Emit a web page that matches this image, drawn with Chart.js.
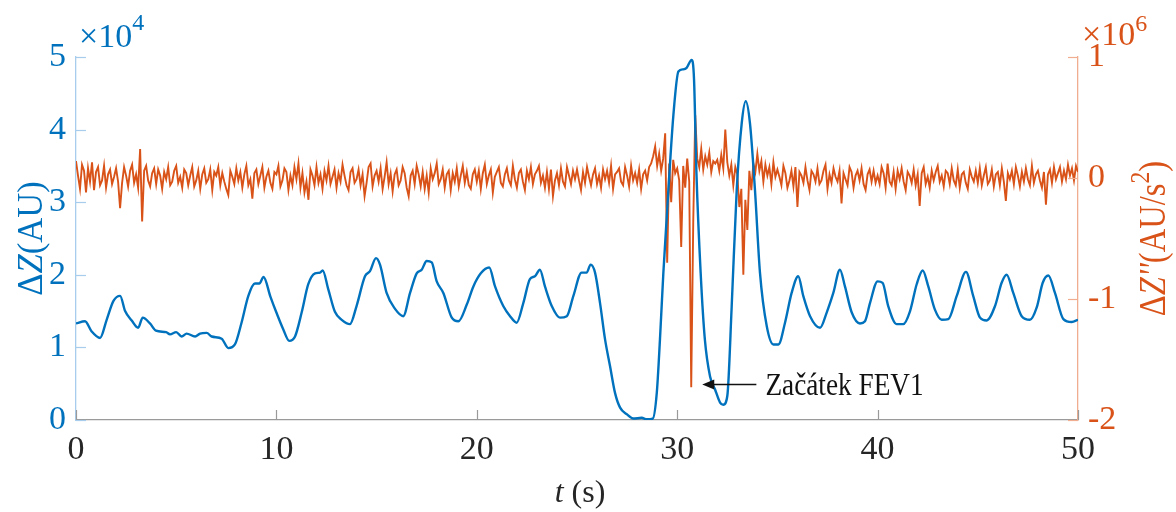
<!DOCTYPE html>
<html>
<head>
<meta charset="utf-8">
<title>FEV1</title>
<script src="https://cdn.jsdelivr.net/npm/chart.js@4.4.1/dist/chart.umd.min.js"></script>
<style>
    html, body { margin: 0; padding: 0; background: #fff; }
    #wrap { width: 1176px; height: 512px; }
</style>
</head>
<body>
<div id="wrap"><canvas id="chart-fev" width="1176" height="512"></canvas></div>
<script>
// impedance dZ, time in s, value in 1e4 AU
var impTime = [0, 0.45, 0.78, 1.2, 1.53, 1.87, 2.2, 2.45, 2.78, 3.1,
    3.33, 3.69, 3.99, 4.5, 4.69, 5.0, 5.27, 5.52, 5.94, 6.19,
    6.52, 6.77, 7.27, 7.6, 7.93, 8.26, 8.6, 8.93, 9.15, 9.36,
    9.7, 10.0, 10.34, 10.64, 10.93, 11.26, 11.59, 11.93, 12.18, 12.31,
    12.59, 12.92, 13.26, 13.67, 14.0, 14.42, 14.67, 14.97, 15.17, 15.5,
    15.92, 16.33, 16.67, 17.0, 17.25, 17.5, 17.75, 18.0, 18.33, 18.75,
    19.08, 19.5, 19.83, 20.2, 20.62, 20.91, 21.32, 21.66, 21.99, 22.32,
    22.65, 22.9, 23.15, 23.4, 23.74, 24.15, 24.49, 24.82, 25.23, 25.48,
    25.68, 25.9, 26.15, 26.4, 26.65, 26.9, 27.15, 27.48, 27.81, 28.23,
    28.48, 28.78, 28.98, 29.14, 29.31, 29.56, 29.81, 30.06, 30.3, 30.47,
    30.72, 30.84, 30.96, 31.17, 31.38, 31.64, 31.89, 32.14, 32.3, 32.5,
    32.72, 32.97, 33.22, 33.42, 33.63, 33.88, 34.13, 34.47, 34.8, 35.05,
    35.38, 35.71, 36.04, 36.29, 36.63, 37.13, 37.46, 37.79, 38.12, 38.37,
    38.71, 39.12, 39.37, 39.62, 40.0, 40.25, 40.53, 40.95, 41.28, 41.62,
    41.95, 42.25, 42.53, 42.86, 43.2, 43.53, 43.95, 44.41, 44.77, 45.11,
    45.44, 45.86, 46.19, 46.44, 46.77, 47.19, 47.6, 47.94, 48.24, 48.52,
    48.85, 49.27, 49.69, 50.0];
var impValue = [1.33, 1.36, 1.22, 1.13, 1.38, 1.64, 1.71, 1.50, 1.37, 1.27,
    1.41, 1.33, 1.23, 1.21, 1.18, 1.21, 1.15, 1.19, 1.15, 1.19,
    1.20, 1.15, 1.12, 0.99, 1.04, 1.34, 1.71, 1.88, 1.88, 1.97,
    1.70, 1.48, 1.25, 1.09, 1.15, 1.48, 1.87, 2.02, 2.03, 2.06,
    1.80, 1.49, 1.38, 1.32, 1.57, 1.98, 2.05, 2.23, 2.14, 1.75,
    1.53, 1.43, 1.75, 2.02, 2.07, 2.19, 2.17, 1.91, 1.75, 1.41,
    1.36, 1.59, 1.84, 2.02, 2.10, 1.84, 1.57, 1.43, 1.34, 1.61,
    1.94, 1.98, 2.07, 1.84, 1.57, 1.41, 1.43, 1.71, 2.03, 2.03,
    2.14, 2.03, 1.61, 1.11, 0.74, 0.37, 0.17, 0.08, 0.02, 0.03,
    0.01, 0.02, 0.37, 1.11, 2.03, 3.17, 4.2, 4.80, 4.83, 4.85,
    4.96, 4.69, 3.40, 2.03, 1.11, 0.60, 0.42, 0.24, 0.21, 0.33,
    1.57, 3.17, 4.09, 4.39, 4.09, 3.17, 2.03, 1.29, 1.04, 1.04,
    1.34, 1.75, 1.98, 1.71, 1.43, 1.27, 1.48, 1.75, 2.07, 1.84,
    1.48, 1.33, 1.36, 1.61, 1.91, 1.89, 1.57, 1.32, 1.32, 1.50,
    1.87, 2.06, 1.84, 1.52, 1.38, 1.39, 1.71, 2.04, 1.71, 1.41,
    1.37, 1.57, 1.89, 2.00, 1.75, 1.43, 1.38, 1.55, 1.89, 1.99,
    1.75, 1.39, 1.35, 1.38];

// second derivative dZ'', one sample every 0.1 s from 0 to 50 s, in 1e4 AU/s^2
var accStep = 0.1;
var accValue = [
    14, 2, -9, 11, 6, -12, 8, -3, 13, -10,
    5, 9, -6, -2, 10, -8, 3, 7, -5, 1,
    8, -3, -25, -4, 9, 2, -7, 6, 11, -4,
    3, -8, 24, -36, 6, 10, -2, -7, 4, 8,
    -5, 7, 2, -9, 5, -1, 9, -6, -3, 6,
    10, -4, 1, -8, 7, 4, -6, 2, 9, -7,
    -2, 6, -9, 3, 8, -4, -1, 7, -10, 5,
    2, 9, -6, 4, -3, -9, -14, 6, 1, -5,
    8, -2, 5, -8, 3, 10, -6, -1, -17, 4,
    7, -5, 2, 9, -8, 1, 6, -4, -9, 5,
    3, 10, -7, -2, 8, 5, -10, 2, -6, 9,
    -1, 12, -8, 4, -12, -3, -18, 7, 2, -6,
    9, -4, 3, -9, 6, -2, 10, -5, 1, 7,
    -8, 4, -3, 11, 2, -6, -10, 5, 8, -4,
    -1, 7, -6, 3, -15, -4, 9, 12, -7, 2,
    6, -3, 8, -9, 1, 13, -5, 4, -11, 3,
    7, -6, -2, 9, 4, -8, -15, 2, 6, -5,
    10, 3, -7, 5, -9, 2, -12, 8, -1, 4,
    12, -5, -1, 7, -8, 3, 6, -10, 4, -3,
    8, -7, 2, 10, -4, 5, -6, -9, 3, 7,
    -3, 6, -9, 4, 11, -5, 2, 7, -12, 1,
    5, 9, -4, -7, 3, 8, -2, -6, 10, -1,
    -8, 4, 7, -3, -10, 6, -1, 9, -5, 3,
    6, 10, -4, 2, -8, 5, -9, 7, -15, -2,
    4, -6, 8, -3, -7, 9, 2, -5, 6, -1,
    7, -2, -10, 5, -4, 9, 1, -6, 3, 8,
    -5, 2, -8, 7, -1, 6, -4, 10, -9, 3,
    5, 8, -3, -6, 9, 2, -7, 10, -2, 4,
    -4, 7, -9, 3, 6, -2, 9, 12, 18, 26,
    10, 20, 6, 16, 37, -70, 12, -20, 15, 4,
    8, -2, -57, 10, -8, 16, -3, -173, -37, 52,
    16, 9, 24, 7, 18, 11, 21, 5, 14, 12,
    15, 6, 19, 8, 40, 13, 2, 11, -6, 9,
    3, -24, -9, -80, -18, -43, 6, -10, 12, 5,
    20, 6, 14, -3, 11, 2, 9, -5, 13, 1,
    7, 1, -6, 10, 4, -8, -2, 6, -7, 9,
    -24, 5, 2, -4, 9, -2, -10, 6, 3, -3,
    8, -5, -2, 6, 11, -9, 3, -4, 8, 1,
    -3, 6, -21, 4, -1, -6, 9, 5, -8, 2,
    6, -2, 8, -5, -10, 3, 7, -3, 6, -4,
    2, -5, 9, 4, -8, 12, -3, -6, 5, -9,
    6, -1, 8, -3, -10, 5, 2, -4, 7, -6,
    3, -23, 4, 9, -5, 1, -8, 6, -2, 5,
    10, -3, 2, -7, 6, 4, -5, 8, -2, -6,
    7, -8, 3, 5, -4, -9, 7, 1, -3, 6,
    -4, 8, -6, 2, 9, -5, -2, 7, -7, 3,
    5, -6, 8, -3, -19, 4, -1, 6, -5, 9,
    2, -7, 5, -3, 8, -1, -6, 10, -4, 3,
    6, -2, -8, 5, -22, 3, 7, -4, 9, -1,
    4, 9, -3, 6, -1, 11, 2, 8, -2, 10,
    5];

var xTicks = [0, 10, 20, 30, 40, 50];
var leftTicks = [0, 1, 2, 3, 4, 5];
var rightTicks = [-2, -1, 0, 1];

// arrow marking the start of FEV1 (t in s, level on the right axis in 1e6)
var noteText = 'Začátek FEV1';
var noteTip = 31.25, noteTail = 33.95, noteTextAt = 34.4, noteLevel = -1.70;

var BLUE = '#0072BD';
var ORANGE = '#D95319';
var SERIF = '"Liberation Serif", "Times New Roman", serif';

var impData = impTime.map(function (t, i) { return {x: t, y: impValue[i]}; });
var accData = accValue.map(function (v, i) {
    return {x: Math.round(i * accStep * 10) / 10, y: v / 100};
});

function fixTicks(list) {
    return function (scale) {
        scale.ticks = list.map(function (v) { return {value: v}; });
    };
}

// text made of runs: italic, superscript
function runFont(part, size) {
    var s = part.sup ? Math.round(size * 0.72) : size;
    return (part.it ? 'italic ' : '') + s + 'px ' + SERIF;
}

function drawRich(ctx, parts, cx, base, size, align) {
    var total = 0;
    parts.forEach(function (p) {
        ctx.font = runFont(p, size);
        p.w = ctx.measureText(p.s).width;
        total += p.w;
    });
    var x = align === 'left' ? cx : cx - total / 2;
    ctx.textBaseline = 'alphabetic';
    ctx.textAlign = 'left';
    parts.forEach(function (p) {
        ctx.font = runFont(p, size);
        ctx.fillText(p.s, x, p.sup ? base - size * (p.raise || 0.45) : base);
        x += p.w;
    });
}

var decorPlugin = {
    id: 'decor',
    afterDraw: function (chart) {
        var ctx = chart.ctx;
        var a = chart.chartArea;
        var xs = chart.scales.x, yl = chart.scales.y, yr = chart.scales.y2;
        var midY = (a.top + a.bottom) / 2;
        ctx.save();

        // inward tick marks
        ctx.lineWidth = 1.2;
        ctx.strokeStyle = '#9a9a9a';
        xTicks.forEach(function (v) {
            var px = Math.round(xs.getPixelForValue(v)) + 0.5;
            ctx.beginPath(); ctx.moveTo(px, a.bottom); ctx.lineTo(px, a.bottom - 10); ctx.stroke();
        });
        ctx.strokeStyle = '#a8cdec';
        leftTicks.forEach(function (v) {
            var py = Math.round(yl.getPixelForValue(v)) + 0.5;
            ctx.beginPath(); ctx.moveTo(a.left, py); ctx.lineTo(a.left + 10, py); ctx.stroke();
        });
        ctx.strokeStyle = '#f0ad90';
        rightTicks.forEach(function (v) {
            var py = Math.round(yr.getPixelForValue(v)) + 0.5;
            ctx.beginPath(); ctx.moveTo(a.right, py); ctx.lineTo(a.right - 10, py); ctx.stroke();
        });

        // exponent labels above each y axis
        ctx.fillStyle = BLUE;
        drawRich(ctx, [{s: '×10'}, {s: '4', sup: true, raise: 0.5}], a.left + 3, 47, 34, 'left');
        ctx.fillStyle = ORANGE;
        drawRich(ctx, [{s: '×10'}, {s: '6', sup: true, raise: 0.4}], a.right + 4, 45, 34, 'left');

        // axis titles, centred on the plot height
        ctx.fillStyle = BLUE;
        ctx.save();
        ctx.translate(30, midY);
        ctx.rotate(-Math.PI / 2);
        ctx.scale(0.96, 1);
        drawRich(ctx, [{s: 'Δ'}, {s: 'Z', it: true}, {s: '(AU)'}], 0, 12, 36);
        ctx.restore();

        ctx.fillStyle = ORANGE;
        ctx.save();
        ctx.translate(1153, midY);
        ctx.rotate(-Math.PI / 2);
        ctx.scale(0.88, 1);
        drawRich(ctx, [{s: 'Δ'}, {s: 'Z', it: true}, {s: "''", it: true}, {s: '(AU/s'}, {s: '2', sup: true, raise: 0.42}, {s: ')'}], 0, 12, 37);
        ctx.restore();

        ctx.fillStyle = '#262626';
        drawRich(ctx, [{s: 't', it: true}, {s: ' (s)'}], 580, 502, 32);

        // annotation arrow and text
        var tipX = xs.getPixelForValue(noteTip);
        var tailX = xs.getPixelForValue(noteTail);
        var ny = Math.round(yr.getPixelForValue(noteLevel)) + 0.5;
        ctx.strokeStyle = '#111';
        ctx.fillStyle = '#111';
        ctx.lineWidth = 1.6;
        ctx.beginPath(); ctx.moveTo(tipX + 10, ny); ctx.lineTo(tailX, ny); ctx.stroke();
        ctx.beginPath();
        ctx.moveTo(tipX, ny);
        ctx.lineTo(tipX + 12, ny - 5);
        ctx.lineTo(tipX + 12, ny + 5);
        ctx.closePath();
        ctx.fill();
        ctx.save();
        ctx.translate(xs.getPixelForValue(noteTextAt), ny + 10);
        ctx.scale(0.88, 1);
        ctx.font = '31px ' + SERIF;
        ctx.textAlign = 'left';
        ctx.textBaseline = 'alphabetic';
        ctx.fillText(noteText, 0, 0);
        ctx.restore();

        ctx.restore();
    }
};

var ctx1 = document.getElementById('chart-fev').getContext('2d');
var fevChart = new Chart(ctx1, {
    type: 'line',
    data: {
        datasets: [
            {
                label: 'dZ',
                data: impData,
                yAxisID: 'y',
                borderColor: BLUE,
                borderWidth: 2.4,
                pointRadius: 0,
                cubicInterpolationMode: 'monotone',
                fill: false
            },
            {
                label: 'dZ2',
                data: accData,
                yAxisID: 'y2',
                borderColor: ORANGE,
                borderWidth: 1.9,
                pointRadius: 0,
                tension: 0,
                fill: false
            }
        ]
    },
    options: {
        responsive: false,
        animation: false,
        devicePixelRatio: 1,
        layout: { padding: { top: 57, left: 0, right: 0, bottom: 0 } },
        plugins: {
            legend: { display: false },
            tooltip: { enabled: false }
        },
        scales: {
            x: {
                type: 'linear',
                min: 0,
                max: 50,
                afterBuildTicks: fixTicks(xTicks),
                afterFit: function (s) { s.height = 92; },
                grid: { display: false, drawTicks: false },
                border: { display: true, color: '#9a9a9a', width: 1.3 },
                ticks: {
                    color: '#262626',
                    padding: 10,
                    maxRotation: 0,
                    font: { family: SERIF, size: 34 }
                }
            },
            y: {
                position: 'left',
                min: 0,
                max: 5,
                afterBuildTicks: fixTicks(leftTicks),
                afterFit: function (s) { s.width = 76; },
                grid: { display: false, drawTicks: false },
                border: { display: true, color: '#a8cdec', width: 1.3 },
                ticks: {
                    color: BLUE,
                    padding: 10,
                    font: { family: SERIF, size: 34 }
                }
            },
            y2: {
                position: 'right',
                min: -2,
                max: 1,
                afterBuildTicks: fixTicks(rightTicks),
                afterFit: function (s) { s.width = 98; },
                grid: { display: false, drawTicks: false },
                border: { display: true, color: '#f0ad90', width: 1.3 },
                ticks: {
                    color: ORANGE,
                    padding: 10,
                    font: { family: SERIF, size: 34 }
                }
            }
        }
    },
    plugins: [decorPlugin]
});
</script>
</body>
</html>
